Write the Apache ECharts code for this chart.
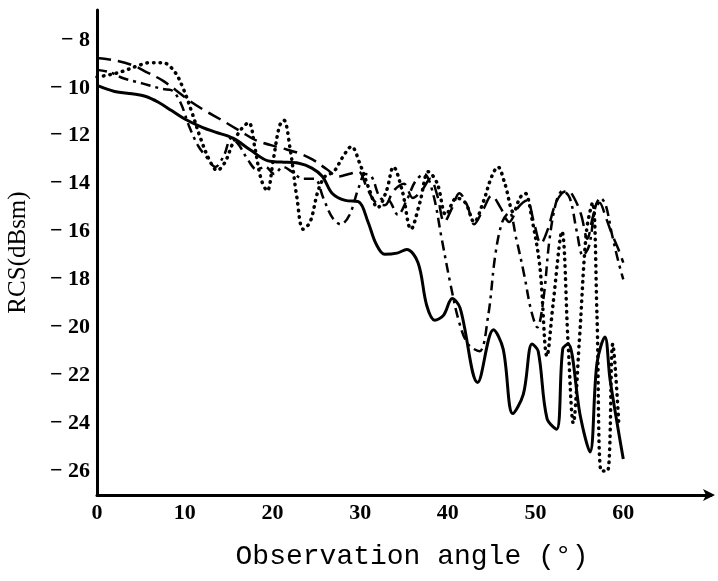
<!DOCTYPE html>
<html>
<head>
<meta charset="utf-8">
<script src="https://cdn.jsdelivr.net/npm/echarts@6/dist/echarts.min.js"></script>
<style>
html,body{margin:0;padding:0;background:#fff;}
#chart{width:718px;height:581px;}
</style>
</head>
<body>
<div id="chart"></div>
<script>
// ---- data ----
const xTickLabels = [0, 10, 20, 30, 40, 50, 60];
const yTickLabels = [-26, -24, -22, -20, -18, -16, -14, -12, -10, -8];

const solidAngles = [0,2,4,5.5,7,8.5,10,12,13.5,15.5,17.5,19.5,21,23,24.5,25.7,26.8,28.3,29.8,30.9,31.8,32.8,34.2,35.3,36.6,37.6,38.5,39.5,40.5,41.4,43.4,45.2,46.3,47.4,48.6,49.6,50.3,51.3,52.4,53.1,53.7,55.1,56.2,57,57.9,58.5,60];
const solidRCS = [-9.9,-10.15,-10.25,-10.35,-10.6,-10.95,-11.3,-11.65,-11.85,-12.1,-12.6,-13.05,-13.1,-13.15,-13.35,-13.7,-14.4,-14.7,-14.75,-15.6,-16.5,-16.95,-16.9,-16.75,-17.3,-19.1,-19.7,-19.5,-18.8,-19.2,-22.3,-20.1,-20.9,-23.6,-22.8,-20.7,-21.0,-23.8,-24.25,-20.9,-20.7,-23.7,-25.2,-21.5,-20.4,-22.2,-25.5];

const dashedAngles = [0,2,4,5.7,7.5,9,10.6,12.3,14,16.3,18.2,20.9,22.8,24.6,26.2,27.5,28.7,29.8,30.8,31.8,32.8,33.8,35,36,37,38,38.8,39.6,40.5,41.3,42.2,43,44,45,46,47,48,49,49.8,50.6,51.4,52.2,53,53.7,54.4,55.2,55.9,56.6,57.3,58,58.7,59.4,60];
const dashedRCS = [-8.75,-8.85,-9.05,-9.35,-9.7,-10.1,-10.55,-10.95,-11.3,-11.8,-12.2,-12.5,-12.7,-13.0,-13.4,-13.7,-13.6,-13.5,-14.2,-14.8,-14.9,-14.3,-14.0,-14.6,-14.3,-13.8,-14.5,-15.6,-15.0,-14.4,-14.9,-15.7,-15.1,-14.5,-15.0,-15.6,-15.0,-14.7,-15.6,-16.5,-15.9,-14.9,-14.4,-14.3,-14.6,-15.3,-16.3,-15.3,-14.8,-15.4,-16.1,-16.7,-17.3];

const dashDotAngles = [0,1.5,3,4.5,6,7.5,8.5,9.5,10.5,11.5,12.5,13.5,14.5,15.3,16.2,17.2,18.2,19.2,20.2,21.2,22.2,23.5,24.8,25.8,26.8,27.8,28.8,29.8,30.6,31.3,32.3,33.3,34.3,35.3,36.3,37.3,38.3,39.3,40.3,41.3,42.3,43.6,44.6,45.4,46.2,47,47.8,48.7,49.5,50.2,50.9,51.6,52.4,53.1,53.9,54.7,55.4,56.1,56.8,57.4,58,58.7,59.4,60];
const dashDotRCS = [-9.25,-9.35,-9.6,-9.75,-9.9,-10.05,-10.1,-10.6,-11.6,-12.4,-12.9,-13.3,-12.8,-12.1,-12.4,-13.0,-13.4,-13.3,-13.6,-13.3,-13.5,-13.8,-13.8,-14.6,-15.4,-15.7,-15.3,-14.2,-13.6,-13.7,-14.6,-14.7,-15.3,-14.7,-13.9,-13.6,-14.4,-16.3,-18.2,-19.8,-20.7,-21.0,-19.5,-17.0,-15.6,-15.2,-16.3,-17.8,-19.3,-20.0,-18.8,-16.3,-14.7,-14.3,-14.6,-16.0,-17.0,-16.6,-15.0,-14.6,-14.9,-16.1,-17.2,-18.0];

const dottedAngles = [0,1.5,3,4.5,6,7.5,8.8,9.8,10.8,11.8,12.8,13.7,14.6,15.5,16.5,17.3,18,18.7,19.4,20.1,20.8,21.3,22,22.8,23.5,24.3,25.2,26,27,28,29,30,31,32,33,33.8,34.8,35.8,36.8,37.8,38.8,39.8,41,42,43,44,45,45.7,46.5,47.5,48.2,48.8,49.6,50.5,51.3,52,53,53.7,54.3,55,55.8,56.5,57,57.5,58.2,58.8,59.5];
const dottedRCS = [-9.55,-9.45,-9.3,-9.1,-8.95,-8.95,-9.3,-10.0,-11.0,-12.1,-13.0,-13.45,-13.1,-12.3,-11.7,-11.45,-12.5,-13.8,-14.3,-13.0,-11.6,-11.35,-12.5,-14.6,-15.9,-15.6,-14.3,-13.7,-13.5,-12.9,-12.45,-13.2,-14.2,-15.0,-14.3,-13.3,-14.3,-15.9,-14.8,-13.5,-14.0,-15.3,-14.6,-14.8,-15.6,-14.8,-13.7,-13.3,-14.0,-15.2,-14.6,-14.4,-15.5,-17.5,-21.2,-19.0,-16.0,-20.6,-24.0,-20.5,-16.0,-14.8,-19.5,-26.0,-26.0,-20.7,-24.1];

const xTitle = 'Observation angle (°)';
const yTitle = 'RCS(dBsm)';

function pairs(xs, ys) { return xs.map((x, i) => [x, ys[i]]); }

const chart = echarts.init(document.getElementById('chart'), null, {renderer: 'canvas'});
const mk = (name, xs, ys, width, type, cap) => ({
  name, type: 'line', data: pairs(xs, ys), smooth: 0.35, symbol: 'none',
  lineStyle: {color: '#000', width: width, type: type, cap: cap || 'butt'}
});

chart.setOption({
  backgroundColor: '#fff',
  animation: false,
  grid: {left: 97, right: 7, top: 10, bottom: 86, containLabel: false, outerBoundsMode: 'none'},
  xAxis: {
    type: 'value', min: 0, max: 70,
    axisLine: {show: true, lineStyle: {color: '#000', width: 3}, symbol: ['none', 'arrow'], symbolSize: [9, 12], symbolOffset: [0, 4]},
    axisTick: {show: false},
    splitLine: {show: false},
    axisLabel: {customValues: xTickLabels, color: '#000', fontFamily: 'Liberation Serif', fontWeight: 'bold', fontSize: 22, margin: 7},
    name: xTitle, nameLocation: 'middle', nameGap: 48,
    nameTextStyle: {color: '#000', fontFamily: 'Liberation Mono', fontSize: 28, padding: [0, 0, 0, 16]}
  },
  yAxis: {
    type: 'value', min: -27, max: -6.75,
    axisLine: {show: true, lineStyle: {color: '#000', width: 3}},
    axisTick: {show: false},
    splitLine: {show: false},
    axisLabel: {customValues: yTickLabels, color: '#000', fontFamily: 'Liberation Serif', fontWeight: 'bold', fontSize: 22, margin: 7,
      formatter: v => '\u2212 ' + Math.abs(v)},
    name: yTitle, nameLocation: 'middle', nameGap: 66, nameRotate: 90,
    nameTextStyle: {color: '#000', fontFamily: 'Liberation Serif', fontSize: 25, padding: [0, 0, 0, 0]}
  },
  series: [
    mk('solid', solidAngles, solidRCS, 3, 'solid'),
    mk('dashed', dashedAngles, dashedRCS, 2.5, [14, 7]),
    mk('dashdot', dashDotAngles, dashDotRCS, 2.5, [10, 5, 3, 5]),
    mk('dotted', dottedAngles, dottedRCS, 3.5, [0.5, 6], 'round')
  ]
});
</script>
</body>
</html>
